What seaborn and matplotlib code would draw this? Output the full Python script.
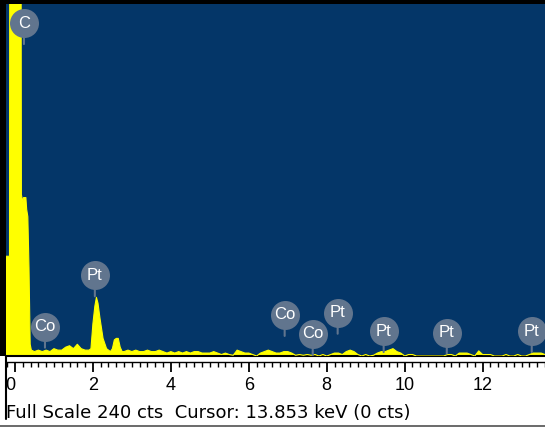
import matplotlib
matplotlib.use("Agg")
import matplotlib.pyplot as plt
import matplotlib.transforms as mtransforms
from matplotlib.lines import Line2D
from matplotlib.patches import Rectangle
from matplotlib.ticker import MultipleLocator, FixedLocator
import pandas as pd
import seaborn as sns

# ---- spectrum (energy in keV, counts per channel) ----
energy_kev = [
    -0.23, -0.14, -0.125, 0.14, 0.165, 0.20, 0.22, 0.28, 0.30, 0.33, 0.36, 0.39, 0.42,
    0.5, 0.6, 0.7, 0.8, 0.9, 1.0, 1.1, 1.2, 1.3, 1.4, 1.5, 1.6, 1.7, 1.8, 1.9, 1.95,
    2.0, 2.05, 2.09, 2.13, 2.18, 2.26, 2.35, 2.4, 2.45, 2.5, 2.55, 2.6, 2.65, 2.7, 2.75,
    2.8, 2.9, 3.0, 3.1, 3.2, 3.3, 3.4, 3.5, 3.6, 3.7, 3.8, 3.9, 4.0, 4.1, 4.2, 4.3,
    4.4, 4.5, 4.6, 4.7, 4.8, 4.9, 5.0, 5.1, 5.2, 5.3, 5.4, 5.5, 5.6, 5.7, 5.8, 5.9,
    6.0, 6.1, 6.2, 6.3, 6.4, 6.5, 6.6, 6.7, 6.8, 6.9, 7.0, 7.1, 7.2, 7.3, 7.4, 7.5,
    7.6, 7.7, 7.8, 7.9, 8.0, 8.1, 8.2, 8.3, 8.4, 8.5, 8.6, 8.7, 8.8, 8.9, 9.0, 9.1,
    9.2, 9.3, 9.4, 9.5, 9.6, 9.7, 9.8, 9.9, 10.0, 10.1, 10.2, 10.3, 10.4, 10.5, 10.6,
    10.7, 10.8, 10.9, 11.0, 11.1, 11.2, 11.3, 11.4, 11.5, 11.6, 11.7, 11.8, 11.9,
    12.0, 12.1, 12.2, 12.3, 12.4, 12.5, 12.6, 12.7, 12.8, 12.9, 13.0, 13.1, 13.2,
    13.3, 13.4, 13.5, 13.6,
]
counts = [
    68, 68, 600, 600, 110, 105, 108, 108, 100, 95, 60, 8, 4,
    3, 4, 3, 4, 3, 5, 4, 4, 6, 7, 5, 8, 5, 4, 4, 5,
    22, 34, 40, 36, 26, 12, 5, 4, 3, 5, 11, 12, 12, 6, 3,
    3, 4, 3, 4, 3, 3, 4, 3, 3, 4, 3, 2, 3, 2, 3, 2,
    3, 2, 3, 3, 2, 2, 2, 3, 2, 1, 2, 1, 0.5, 4, 3, 2,
    2, 1, 0, 2, 3, 4, 3, 2, 2, 3, 3, 2, 0.5, 1, 0.5, 1,
    0.5, 1, 0, 1, 0, 1, 2, 2, 1, 3, 4, 3, 1, 0, 1, 0,
    0.5, 2, 3, 3, 4, 5, 3, 2, 0, 1, 1, 0, 0, 0, 0,
    0, 0, 0, 0, 1, 1, 0, 2, 2, 2, 1, 0, 3.5,
    1, 1, 1, 0, 0, 0, 1, 0, 0, 1, 0, 0, 1,
    2, 2, 2, 1,
]

# ---- element markers ----
peak_labels = ["C", "Co", "Pt", "Co", "Co", "Pt", "Pt", "Pt", "Pt"]
peak_kev = [0.23, 0.77, 2.05, 6.92, 7.64, 8.28, 9.46, 11.08, 13.26]
label_height_cts = [227, 20, 55, 28, 15, 29.5, 17, 16, 17]

# ---- axis / status line ----
tick_kev = [0, 2, 4, 6, 8, 10, 12]
tick_labels = ["0", "2", "4", "6", "8", "10", "12"]
full_scale_cts = 240
status_text = "Full Scale 240 cts  Cursor: 13.853 keV (0 cts)"

NAVY = "#043668"
YELLOW = "#ffff00"
BUBBLE = "#61758e"

W, H = 545, 428
sns.set_style("white")
plt.rcParams["font.family"] = ["Liberation Sans", "DejaVu Sans"]

fig = plt.figure(figsize=(W / 100, H / 100), dpi=100)
fig.patch.set_facecolor("white")


def fx(px):
    return px / W


def fy(py):
    return 1 - py / H


# spectrum panel
ax = fig.add_axes([fx(6), fy(356), fx(545) - fx(6), fy(4) - fy(356)])
ax.set_facecolor(NAVY)
spec = pd.DataFrame({"energy": energy_kev, "counts": counts})
ax.fill_between(spec["energy"], 0, spec["counts"], color=YELLOW, lw=0, zorder=2)
sns.lineplot(data=spec, x="energy", y="counts", ax=ax, color=YELLOW, lw=0.8,
             estimator=None, sort=False, zorder=3)
ax.set_xlim(-0.23, 13.6)
ax.set_ylim(0, full_scale_cts)
ax.set_xticks([])
ax.set_yticks([])
ax.set_xlabel("")
ax.set_ylabel("")
for side in ("right", "top", "left"):
    ax.spines[side].set_visible(False)
ax.spines["bottom"].set_color("black")
ax.spines["bottom"].set_linewidth(1.5)

# element bubbles with stems
for lab, e, h in zip(peak_labels, peak_kev, label_height_cts):
    ax.annotate("", xy=(e, h), xytext=(0, -21 * 0.72), textcoords="offset points",
                arrowprops=dict(arrowstyle="-", color=BUBBLE, lw=1.5,
                                shrinkA=0, shrinkB=0), zorder=4)
    ax.text(e, h, lab, color="white", ha="center", va="center", fontsize=12,
            zorder=6, clip_on=False)
sns.scatterplot(x=peak_kev, y=label_height_cts, ax=ax, s=(29 * 0.72) ** 2,
                color=BUBBLE, linewidth=0, zorder=5, clip_on=False, legend=False)

# energy ruler
rax = fig.add_axes([fx(6), fy(428), fx(545) - fx(6), fy(362) - fy(428)])
rax.set_facecolor("none")
rax.set_xlim(ax.get_xlim())
rax.set_ylim(0, 1)
for side in ("right", "bottom", "left"):
    rax.spines[side].set_visible(False)
rax.spines["top"].set_linewidth(1.0)
rax.spines["top"].set_color("black")
rax.set_yticks([])
rax.xaxis.set_ticks_position("top")
rax.xaxis.set_major_locator(FixedLocator(tick_kev))
rax.xaxis.set_minor_locator(MultipleLocator(0.2))
rax.tick_params(axis="x", which="major", direction="in", length=10 * 0.72,
                width=1.3, color="black", labeltop=False, labelbottom=False)
rax.tick_params(axis="x", which="minor", direction="in", length=4.5 * 0.72,
                width=1.0, color="black")
blend = mtransforms.blended_transform_factory(rax.transData, fig.transFigure)
for t, lab in zip(tick_kev, tick_labels):
    rax.text(t + (0.01 if t == 0 else 0), fy(385), lab, transform=blend,
             ha="right" if t == 0 else "center", va="center", fontsize=13,
             color="black")

fig.text(fx(6), fy(413.5), status_text, ha="left", va="center", fontsize=13,
         color="black", family=["DejaVu Sans"])

# window frame
fig.add_artist(Rectangle((0, fy(356)), fx(6), 1 - fy(356), transform=fig.transFigure,
                         color="black", lw=0))
fig.add_artist(Rectangle((0, fy(4)), 1, 1 - fy(4), transform=fig.transFigure,
                         color="black", lw=0))
fig.add_artist(Line2D([fx(6), fx(6)], [fy(356), fy(419)], transform=fig.transFigure,
                      color="black", lw=1.5))
fig.add_artist(Line2D([0, 1], [fy(426), fy(426)], transform=fig.transFigure,
                      color="#505050", lw=1.2))

fig.savefig("out.png", dpi=100)
